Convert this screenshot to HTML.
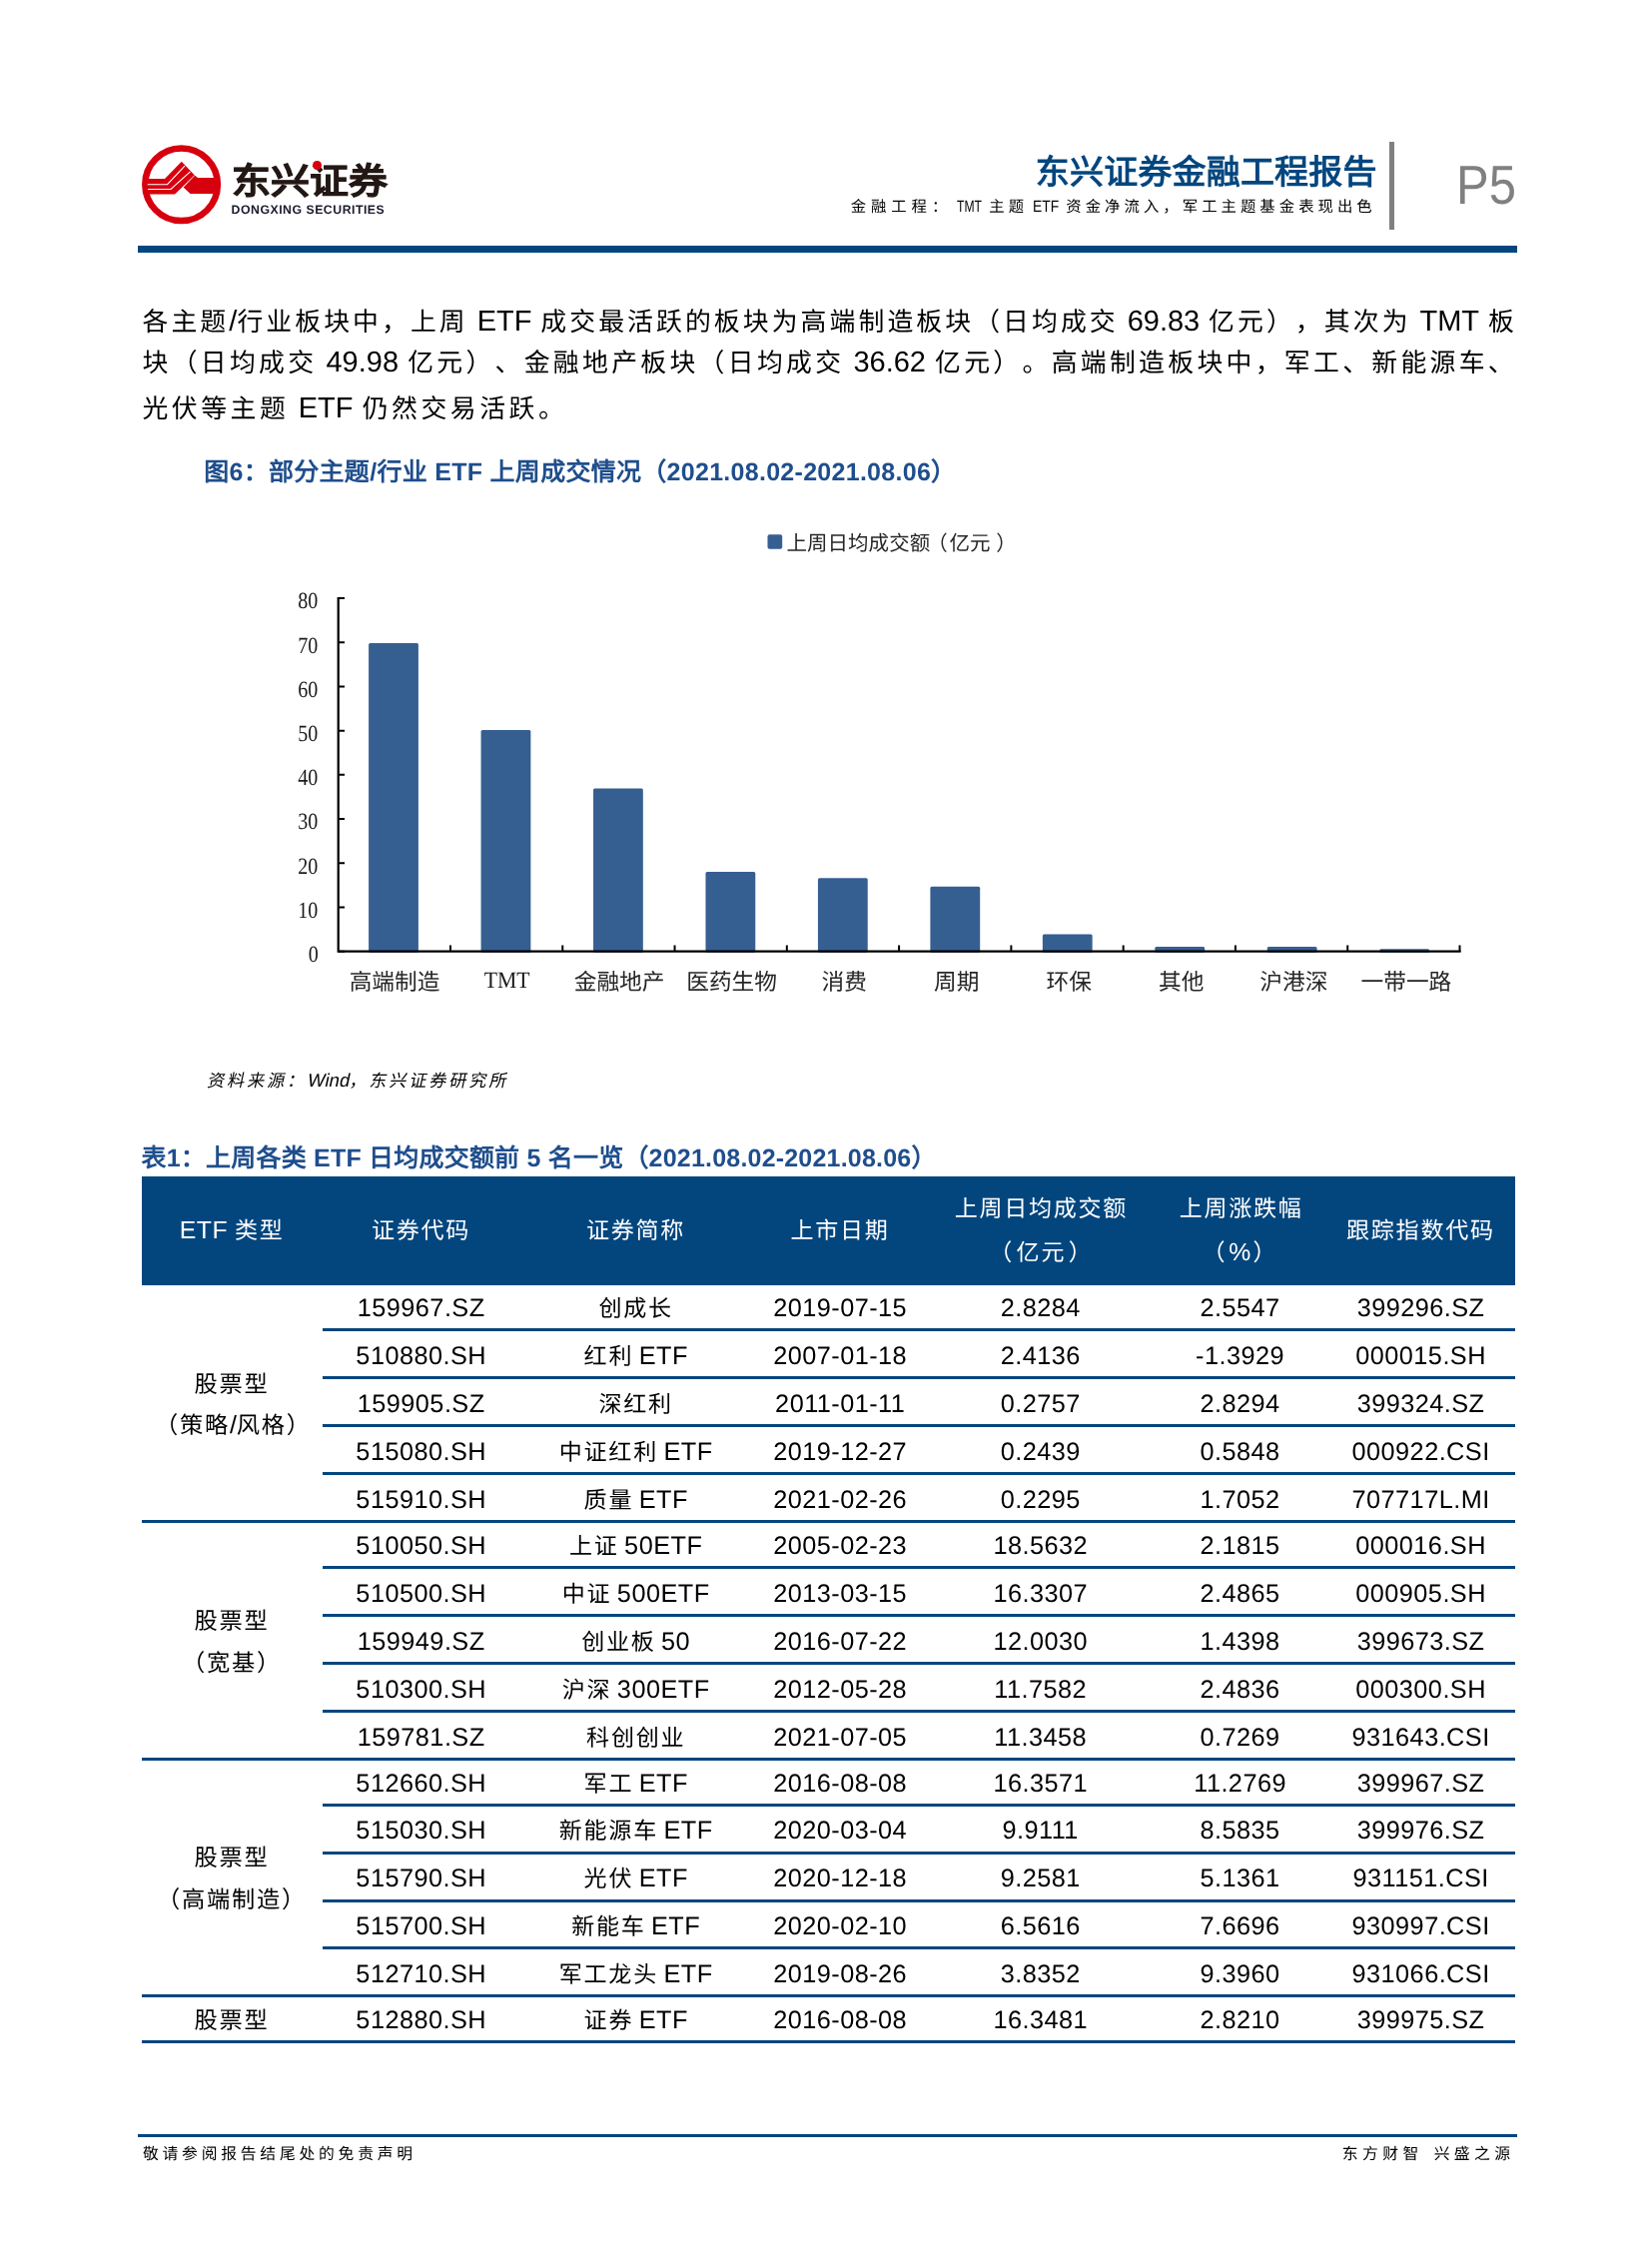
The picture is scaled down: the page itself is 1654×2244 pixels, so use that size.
<!DOCTYPE html>
<html lang="zh-CN">
<head>
<meta charset="utf-8">
<title>东兴证券金融工程报告 P5</title>
<style>
html,body{margin:0;padding:0;background:#fff;}
body{text-rendering:geometricPrecision;width:1654px;height:2244px;position:relative;overflow:hidden;font-family:"Liberation Sans",sans-serif;color:#000;}
.t{position:absolute;white-space:nowrap;margin:0;padding:0;font-family:"Liberation Sans",sans-serif;}
.r{position:absolute;}
.k{font-weight:400;}
.sf{font-family:"Liberation Serif",serif;}
.b{font-weight:bold;}
.i{font-style:italic;}
.a{font-weight:400;}
.nl{display:inline-block;letter-spacing:0;transform-origin:0 50%;}
.l{letter-spacing:0;font-size:29px;}
.c{font-size:24.7px;letter-spacing:0;}
.t{text-spacing-trim:space-all;}
.z0{font-size:15.35px;letter-spacing:4.95px;}
.z1{font-size:15.35px;letter-spacing:4.05px;}
.z2{font-size:25.85px;letter-spacing:3.05px;}
.z3{font-size:25.85px;letter-spacing:3.5px;}
.z4{font-size:17.21px;letter-spacing:2.79px;}
.z5{font-size:23.06px;letter-spacing:1.74px;}
.z6{font-size:23.25px;letter-spacing:1.75px;}
.z7{font-size:15.81px;letter-spacing:3.74px;}
.z8{font-size:15.81px;letter-spacing:4.39px;}
svg{position:absolute;left:0;top:0;}
</style>
</head>
<body>
<div id="page" style="position:absolute;left:0;top:0;width:1654px;height:2244px;will-change:transform;">

<svg width="1654" height="300" viewBox="0 0 1654 300">
<g>
<circle cx="181.6" cy="184.8" r="36.3" fill="none" stroke="#d7000f" stroke-width="6.5"/>
<clipPath id="lc"><circle cx="181.6" cy="184.8" r="34"/></clipPath>
<g clip-path="url(#lc)">
<polygon points="140,178.9 165,178.9 181.8,161.8 194.9,175.5 175,194.6 140,194.6" fill="#d7000f"/>
<polygon points="194.9,175.5 198,178 230,178 230,193.9 190.5,193.9 183.6,187.4" fill="#d7000f"/>
<polyline points="140,184.7 167.5,184.7 185,166.2" fill="none" stroke="#fff" stroke-width="1.1"/>
<polyline points="140,189.5 171,189.5 190.5,171.8" fill="none" stroke="#fff" stroke-width="1.1"/>
<line x1="183.4" y1="187.2" x2="194.9" y2="175.5" stroke="#fff" stroke-width="0.7"/>
</g>
</g>
</svg>

<div class="t b j" style="left:232.4px;width:145.1px;text-align:justify;text-align-last:justify;top:158.0px;font-size:36.2px;line-height:47px;height:47px;color:#231815;-webkit-text-stroke:0.7px #231815;transform:scaleX(1.075);transform-origin:0 50%;">东兴证券</div>
<div class="r" style="left:313.1px;top:161.1px;width:8.8px;height:8.8px;border-radius:50%;background:#d7000f;"></div>
<div class="t b" style="left:231.6px;top:202.0px;font-size:12.3px;line-height:16px;height:16px;color:#1a1a2e;letter-spacing:0.5px;">DONGXING SECURITIES</div>
<div class="t b j" style="left:1036.8px;width:341.8px;text-align:justify;text-align-last:justify;top:151.0px;font-size:34px;line-height:44px;height:44px;color:#03467e;letter-spacing:0.15px;">东兴证券金融工程报告</div>
<div class="t k j" style="left:851.7px;width:526.1px;text-align:justify;text-align-last:justify;top:197.0px;font-size:16.5px;line-height:21px;height:21px;letter-spacing:2.9px;"><span class="z0">金融工程</span><span class="z1">：</span><span class="nl" style="transform:scaleX(.737);margin-right:-8.9px;margin-left:5.5px">TMT</span> <span class="z1">主题</span> <span class="nl" style="transform:scaleX(.84);margin-right:-5px;margin-left:-3px">ETF</span> <span class="z1">资金净流入，军工主题基金表现出色</span></div>
<div class="r" style="left:1390.8px;top:142.0px;width:5.3px;height:87.5px;background:#808080;"></div>
<div class="t " style="left:1458.0px;top:149.0px;font-size:55px;line-height:72px;height:72px;color:#808080;"><span style="display:inline-block;transform:scaleX(0.89);transform-origin:0 50%">P5</span></div>
<div class="r" style="left:138.0px;top:246.0px;width:1381.0px;height:7.0px;background:#03467e;"></div>
<div class="t k" style="left:142.5px;letter-spacing:1.1px;top:302.0px;font-size:27.8px;line-height:40px;height:40px;width:1376.3px;text-align:justify;text-align-last:justify;"><span class="z2">各主题</span><span class="l">/</span><span class="z2">行业板块中，上周</span> <span class="l">ETF</span> <span class="z2">成交最活跃的板块为高端制造板块（日均成交</span> <span class="l">69.83</span> <span class="z2">亿元），其次为</span> <span class="l">TMT</span> <span class="z2">板</span></div>
<div class="t k" style="left:142.5px;letter-spacing:1.1px;top:343.0px;font-size:27.8px;line-height:40px;height:40px;width:1376.3px;text-align:justify;text-align-last:justify;"><span class="z2">块（日均成交</span> <span class="l">49.98</span> <span class="z2">亿元）、金融地产板块（日均成交</span> <span class="l">36.62</span> <span class="z2">亿元）。高端制造板块中，军工、新能源车、</span></div>
<div class="t k j" style="left:142.5px;width:425.8px;text-align:justify;text-align-last:justify;top:389.0px;font-size:27.8px;line-height:40px;height:40px;letter-spacing:1.55px;"><span class="z3">光伏等主题</span> <span class="l">ETF</span> <span class="z3">仍然交易活跃。</span></div>
<div class="t b j" style="left:204.2px;width:753.2px;text-align:justify;text-align-last:justify;top:457.0px;font-size:25px;line-height:32px;height:32px;color:#1f4e8c;letter-spacing:0.28px;">图6：部分主题/行业 ETF 上周成交情况（2021.08.02-2021.08.06）</div>
<svg width="1654" height="1100" viewBox="0 0 1654 1100">
<rect x="369.10" y="643.96" width="49.8" height="309.74" rx="1.5" ry="1.5" fill="#365f91"/>
<rect x="481.56" y="730.97" width="49.8" height="222.73" rx="1.5" ry="1.5" fill="#365f91"/>
<rect x="594.02" y="789.56" width="49.8" height="164.14" rx="1.5" ry="1.5" fill="#365f91"/>
<rect x="706.48" y="873.12" width="49.8" height="80.58" rx="1.5" ry="1.5" fill="#365f91"/>
<rect x="818.94" y="879.31" width="49.8" height="74.39" rx="1.5" ry="1.5" fill="#365f91"/>
<rect x="931.40" y="887.71" width="49.8" height="65.99" rx="1.5" ry="1.5" fill="#365f91"/>
<rect x="1043.86" y="935.46" width="49.8" height="18.24" rx="1.5" ry="1.5" fill="#365f91"/>
<rect x="1156.32" y="948.06" width="49.8" height="5.64" rx="1.5" ry="1.5" fill="#365f91"/>
<rect x="1268.78" y="948.06" width="49.8" height="5.64" rx="1.5" ry="1.5" fill="#365f91"/>
<rect x="1381.24" y="950.27" width="49.8" height="3.43" rx="1.5" ry="1.5" fill="#365f91"/>
<path d="M338.70 597.90 V953.80 M337.60 952.70 H1462.60" stroke="#000" stroke-width="2.2" fill="none"/>
<path d="M338.70 599.00 h6.3 M338.70 643.21 h6.3 M338.70 687.42 h6.3 M338.70 731.64 h6.3 M338.70 775.85 h6.3 M338.70 820.06 h6.3 M338.70 864.28 h6.3 M338.70 908.49 h6.3 M338.70 952.70 h6.3 M450.98 952.70 v-6.3 M563.26 952.70 v-6.3 M675.54 952.70 v-6.3 M787.82 952.70 v-6.3 M900.10 952.70 v-6.3 M1012.38 952.70 v-6.3 M1124.66 952.70 v-6.3 M1236.94 952.70 v-6.3 M1349.22 952.70 v-6.3 M1461.50 952.70 v-6.3" stroke="#000" stroke-width="2" fill="none"/>
<rect x="768.5" y="535.3" width="14.7" height="14.5" rx="2" ry="2" fill="#365f91"/>
</svg>
<div class="t sf" style="left:218.3px;width:100px;text-align:right;top:587.0px;font-size:23.3px;line-height:30px;height:30px;color:#1a1a1a;"><span style="display:inline-block;transform:scaleX(0.86);transform-origin:100% 50%">80</span></div>
<div class="t sf" style="left:218.3px;width:100px;text-align:right;top:632.0px;font-size:23.3px;line-height:30px;height:30px;color:#1a1a1a;"><span style="display:inline-block;transform:scaleX(0.86);transform-origin:100% 50%">70</span></div>
<div class="t sf" style="left:218.3px;width:100px;text-align:right;top:676.0px;font-size:23.3px;line-height:30px;height:30px;color:#1a1a1a;"><span style="display:inline-block;transform:scaleX(0.86);transform-origin:100% 50%">60</span></div>
<div class="t sf" style="left:218.3px;width:100px;text-align:right;top:720.0px;font-size:23.3px;line-height:30px;height:30px;color:#1a1a1a;"><span style="display:inline-block;transform:scaleX(0.86);transform-origin:100% 50%">50</span></div>
<div class="t sf" style="left:218.3px;width:100px;text-align:right;top:764.0px;font-size:23.3px;line-height:30px;height:30px;color:#1a1a1a;"><span style="display:inline-block;transform:scaleX(0.86);transform-origin:100% 50%">40</span></div>
<div class="t sf" style="left:218.3px;width:100px;text-align:right;top:808.0px;font-size:23.3px;line-height:30px;height:30px;color:#1a1a1a;"><span style="display:inline-block;transform:scaleX(0.86);transform-origin:100% 50%">30</span></div>
<div class="t sf" style="left:218.3px;width:100px;text-align:right;top:853.0px;font-size:23.3px;line-height:30px;height:30px;color:#1a1a1a;"><span style="display:inline-block;transform:scaleX(0.86);transform-origin:100% 50%">20</span></div>
<div class="t sf" style="left:218.3px;width:100px;text-align:right;top:897.0px;font-size:23.3px;line-height:30px;height:30px;color:#1a1a1a;"><span style="display:inline-block;transform:scaleX(0.86);transform-origin:100% 50%">10</span></div>
<div class="t sf" style="left:218.3px;width:100px;text-align:right;top:941.0px;font-size:23.3px;line-height:30px;height:30px;color:#1a1a1a;"><span style="display:inline-block;transform:scaleX(0.86);transform-origin:100% 50%">0</span></div>
<div class="t k" style="left:295.0px;width:200px;text-align:center;top:968.0px;font-size:22.7px;line-height:30px;height:30px;color:#262626;">高端制造</div>
<div class="t sf" style="left:407.7px;width:200px;text-align:center;top:967.0px;font-size:23.4px;line-height:30px;height:30px;color:#1a1a1a;"><span style="display:inline-block;transform:scaleX(0.93)">TMT</span></div>
<div class="t k" style="left:520.1px;width:200px;text-align:center;top:968.0px;font-size:22.7px;line-height:30px;height:30px;color:#262626;">金融地产</div>
<div class="t k" style="left:632.6px;width:200px;text-align:center;top:968.0px;font-size:22.7px;line-height:30px;height:30px;color:#262626;">医药生物</div>
<div class="t k" style="left:745.2px;width:200px;text-align:center;top:968.0px;font-size:22.7px;line-height:30px;height:30px;color:#262626;">消费</div>
<div class="t k" style="left:857.7px;width:200px;text-align:center;top:968.0px;font-size:22.7px;line-height:30px;height:30px;color:#262626;">周期</div>
<div class="t k" style="left:970.2px;width:200px;text-align:center;top:968.0px;font-size:22.7px;line-height:30px;height:30px;color:#262626;">环保</div>
<div class="t k" style="left:1082.8px;width:200px;text-align:center;top:968.0px;font-size:22.7px;line-height:30px;height:30px;color:#262626;">其他</div>
<div class="t k" style="left:1195.3px;width:200px;text-align:center;top:968.0px;font-size:22.7px;line-height:30px;height:30px;color:#262626;">沪港深</div>
<div class="t k" style="left:1307.9px;width:200px;text-align:center;top:968.0px;font-size:22.7px;line-height:30px;height:30px;color:#262626;">一带一路</div>
<div class="t k j" style="left:787.5px;width:230.3px;text-align:justify;text-align-last:justify;top:531.0px;font-size:20.5px;line-height:27px;height:27px;color:#262626;">上周日均成交额<span style="margin-left:-3.1px">（</span><span style="margin-left:1.9px">亿元</span><span style="margin-left:5.7px">）</span></div>
<div class="t k j" style="left:206.5px;width:302.2px;text-align:justify;text-align-last:justify;top:1070.0px;font-size:18.5px;line-height:24px;height:24px;letter-spacing:1.5px;transform:skewX(-12deg);transform-origin:0 75%;"><span class="z4">资料来源：</span><span class="a" style="letter-spacing:0">Wind</span><span class="z4">，东兴证券研究所</span></div>
<div class="t b j" style="left:141.5px;width:796.1px;text-align:justify;text-align-last:justify;top:1144.0px;font-size:25px;line-height:32px;height:32px;color:#1f4e8c;letter-spacing:0.2px;">表1：上周各类 ETF 日均成交额前 5 名一览（2021.08.02-2021.08.06）</div>
<div class="r" style="left:142.0px;top:1178.3px;width:1375.0px;height:108.4px;background:#03467e;"></div>
<div class="t k" style="left:82.2px;width:300px;text-align:center;top:1216.0px;font-size:24.8px;line-height:32px;height:32px;color:#fff;"><span style="letter-spacing:0.5px">ETF</span> <span class="z5">类型</span></div>
<div class="t k" style="left:271.5px;width:300px;text-align:center;top:1216.0px;font-size:24.8px;line-height:32px;height:32px;color:#fff;"><span class="z5">证券代码</span></div>
<div class="t k" style="left:486.5px;width:300px;text-align:center;top:1216.0px;font-size:24.8px;line-height:32px;height:32px;color:#fff;"><span class="z5">证券简称</span></div>
<div class="t k" style="left:691.0px;width:300px;text-align:center;top:1216.0px;font-size:24.8px;line-height:32px;height:32px;color:#fff;"><span class="z5">上市日期</span></div>
<div class="t k" style="left:892.4px;width:300px;text-align:center;top:1194.0px;font-size:24.8px;line-height:32px;height:32px;color:#fff;"><span class="z5">上周日均成交额</span></div>
<div class="t k" style="left:892.4px;width:300px;text-align:center;top:1238.0px;font-size:24.8px;line-height:32px;height:32px;color:#fff;"><span class="z5">（</span><span style="margin:0 2.5px"><span class="z5">亿元</span></span><span class="z5">）</span></div>
<div class="t k" style="left:1092.7px;width:300px;text-align:center;top:1194.0px;font-size:24.8px;line-height:32px;height:32px;color:#fff;"><span class="z5">上周涨跌幅</span></div>
<div class="t k" style="left:1091.4px;width:300px;text-align:center;top:1238.0px;font-size:24.8px;line-height:32px;height:32px;color:#fff;"><span class="z5">（</span><span style="margin:0 2px">%</span><span class="z5">）</span></div>
<div class="t k" style="left:1272.4px;width:300px;text-align:center;top:1216.0px;font-size:24.8px;line-height:32px;height:32px;color:#fff;"><span class="z5">跟踪指数代码</span></div>
<div class="r" style="left:323.0px;top:1329.9px;width:1194.0px;height:3.1px;background:#03467e;"></div>
<div class="r" style="left:323.0px;top:1378.0px;width:1194.0px;height:3.1px;background:#03467e;"></div>
<div class="r" style="left:323.0px;top:1426.0px;width:1194.0px;height:3.1px;background:#03467e;"></div>
<div class="r" style="left:323.0px;top:1474.0px;width:1194.0px;height:3.1px;background:#03467e;"></div>
<div class="r" style="left:142.0px;top:1522.0px;width:1375.0px;height:3.1px;background:#03467e;"></div>
<div class="r" style="left:323.0px;top:1567.9px;width:1194.0px;height:3.1px;background:#03467e;"></div>
<div class="r" style="left:323.0px;top:1616.0px;width:1194.0px;height:3.1px;background:#03467e;"></div>
<div class="r" style="left:323.0px;top:1663.9px;width:1194.0px;height:3.1px;background:#03467e;"></div>
<div class="r" style="left:323.0px;top:1711.9px;width:1194.0px;height:3.1px;background:#03467e;"></div>
<div class="r" style="left:142.0px;top:1759.9px;width:1375.0px;height:3.1px;background:#03467e;"></div>
<div class="r" style="left:323.0px;top:1806.0px;width:1194.0px;height:3.1px;background:#03467e;"></div>
<div class="r" style="left:323.0px;top:1853.9px;width:1194.0px;height:3.1px;background:#03467e;"></div>
<div class="r" style="left:323.0px;top:1901.8px;width:1194.0px;height:3.1px;background:#03467e;"></div>
<div class="r" style="left:323.0px;top:1949.2px;width:1194.0px;height:3.1px;background:#03467e;"></div>
<div class="r" style="left:142.0px;top:1996.9px;width:1375.0px;height:3.1px;background:#03467e;"></div>
<div class="r" style="left:142.0px;top:2042.9px;width:1375.0px;height:3.1px;background:#03467e;"></div>
<div class="t k" style="left:291.7px;width:260px;text-align:center;top:1294.0px;font-size:25.3px;line-height:33px;height:33px;letter-spacing:0.45px;">159967.SZ</div>
<div class="t k" style="left:506.7px;width:260px;text-align:center;top:1294.0px;font-size:25.3px;line-height:33px;height:33px;letter-spacing:0.45px;word-spacing:-2px;"><span class="z5">创成长</span></div>
<div class="t k" style="left:711.2px;width:260px;text-align:center;top:1294.0px;font-size:25.3px;line-height:33px;height:33px;letter-spacing:0.45px;">2019-07-15</div>
<div class="t k" style="left:911.7px;width:260px;text-align:center;top:1294.0px;font-size:25.3px;line-height:33px;height:33px;letter-spacing:0.45px;">2.8284</div>
<div class="t k" style="left:1111.6px;width:260px;text-align:center;top:1294.0px;font-size:25.3px;line-height:33px;height:33px;letter-spacing:0.45px;">2.5547</div>
<div class="t k" style="left:1292.6px;width:260px;text-align:center;top:1294.0px;font-size:25.3px;line-height:33px;height:33px;letter-spacing:0.45px;">399296.SZ</div>
<div class="t k" style="left:291.7px;width:260px;text-align:center;top:1342.0px;font-size:25.3px;line-height:33px;height:33px;letter-spacing:0.45px;">510880.SH</div>
<div class="t k" style="left:506.7px;width:260px;text-align:center;top:1342.0px;font-size:25.3px;line-height:33px;height:33px;letter-spacing:0.45px;word-spacing:-2px;"><span class="z5">红利</span> ETF</div>
<div class="t k" style="left:711.2px;width:260px;text-align:center;top:1342.0px;font-size:25.3px;line-height:33px;height:33px;letter-spacing:0.45px;">2007-01-18</div>
<div class="t k" style="left:911.7px;width:260px;text-align:center;top:1342.0px;font-size:25.3px;line-height:33px;height:33px;letter-spacing:0.45px;">2.4136</div>
<div class="t k" style="left:1111.6px;width:260px;text-align:center;top:1342.0px;font-size:25.3px;line-height:33px;height:33px;letter-spacing:0.45px;">-1.3929</div>
<div class="t k" style="left:1292.6px;width:260px;text-align:center;top:1342.0px;font-size:25.3px;line-height:33px;height:33px;letter-spacing:0.45px;">000015.SH</div>
<div class="t k" style="left:291.7px;width:260px;text-align:center;top:1390.0px;font-size:25.3px;line-height:33px;height:33px;letter-spacing:0.45px;">159905.SZ</div>
<div class="t k" style="left:506.7px;width:260px;text-align:center;top:1390.0px;font-size:25.3px;line-height:33px;height:33px;letter-spacing:0.45px;word-spacing:-2px;"><span class="z5">深红利</span></div>
<div class="t k" style="left:711.2px;width:260px;text-align:center;top:1390.0px;font-size:25.3px;line-height:33px;height:33px;letter-spacing:0.45px;">2011-01-11</div>
<div class="t k" style="left:911.7px;width:260px;text-align:center;top:1390.0px;font-size:25.3px;line-height:33px;height:33px;letter-spacing:0.45px;">0.2757</div>
<div class="t k" style="left:1111.6px;width:260px;text-align:center;top:1390.0px;font-size:25.3px;line-height:33px;height:33px;letter-spacing:0.45px;">2.8294</div>
<div class="t k" style="left:1292.6px;width:260px;text-align:center;top:1390.0px;font-size:25.3px;line-height:33px;height:33px;letter-spacing:0.45px;">399324.SZ</div>
<div class="t k" style="left:291.7px;width:260px;text-align:center;top:1438.0px;font-size:25.3px;line-height:33px;height:33px;letter-spacing:0.45px;">515080.SH</div>
<div class="t k" style="left:506.7px;width:260px;text-align:center;top:1438.0px;font-size:25.3px;line-height:33px;height:33px;letter-spacing:0.45px;word-spacing:-2px;"><span class="z5">中证红利</span> ETF</div>
<div class="t k" style="left:711.2px;width:260px;text-align:center;top:1438.0px;font-size:25.3px;line-height:33px;height:33px;letter-spacing:0.45px;">2019-12-27</div>
<div class="t k" style="left:911.7px;width:260px;text-align:center;top:1438.0px;font-size:25.3px;line-height:33px;height:33px;letter-spacing:0.45px;">0.2439</div>
<div class="t k" style="left:1111.6px;width:260px;text-align:center;top:1438.0px;font-size:25.3px;line-height:33px;height:33px;letter-spacing:0.45px;">0.5848</div>
<div class="t k" style="left:1292.6px;width:260px;text-align:center;top:1438.0px;font-size:25.3px;line-height:33px;height:33px;letter-spacing:0.45px;">000922.CSI</div>
<div class="t k" style="left:291.7px;width:260px;text-align:center;top:1486.0px;font-size:25.3px;line-height:33px;height:33px;letter-spacing:0.45px;">515910.SH</div>
<div class="t k" style="left:506.7px;width:260px;text-align:center;top:1486.0px;font-size:25.3px;line-height:33px;height:33px;letter-spacing:0.45px;word-spacing:-2px;"><span class="z5">质量</span> ETF</div>
<div class="t k" style="left:711.2px;width:260px;text-align:center;top:1486.0px;font-size:25.3px;line-height:33px;height:33px;letter-spacing:0.45px;">2021-02-26</div>
<div class="t k" style="left:911.7px;width:260px;text-align:center;top:1486.0px;font-size:25.3px;line-height:33px;height:33px;letter-spacing:0.45px;">0.2295</div>
<div class="t k" style="left:1111.6px;width:260px;text-align:center;top:1486.0px;font-size:25.3px;line-height:33px;height:33px;letter-spacing:0.45px;">1.7052</div>
<div class="t k" style="left:1292.6px;width:260px;text-align:center;top:1486.0px;font-size:25.3px;line-height:33px;height:33px;letter-spacing:0.45px;">707717L.MI</div>
<div class="t k" style="left:291.7px;width:260px;text-align:center;top:1532.0px;font-size:25.3px;line-height:33px;height:33px;letter-spacing:0.45px;">510050.SH</div>
<div class="t k" style="left:506.7px;width:260px;text-align:center;top:1532.0px;font-size:25.3px;line-height:33px;height:33px;letter-spacing:0.45px;word-spacing:-2px;"><span class="z5">上证</span> 50ETF</div>
<div class="t k" style="left:711.2px;width:260px;text-align:center;top:1532.0px;font-size:25.3px;line-height:33px;height:33px;letter-spacing:0.45px;">2005-02-23</div>
<div class="t k" style="left:911.7px;width:260px;text-align:center;top:1532.0px;font-size:25.3px;line-height:33px;height:33px;letter-spacing:0.45px;">18.5632</div>
<div class="t k" style="left:1111.6px;width:260px;text-align:center;top:1532.0px;font-size:25.3px;line-height:33px;height:33px;letter-spacing:0.45px;">2.1815</div>
<div class="t k" style="left:1292.6px;width:260px;text-align:center;top:1532.0px;font-size:25.3px;line-height:33px;height:33px;letter-spacing:0.45px;">000016.SH</div>
<div class="t k" style="left:291.7px;width:260px;text-align:center;top:1580.0px;font-size:25.3px;line-height:33px;height:33px;letter-spacing:0.45px;">510500.SH</div>
<div class="t k" style="left:506.7px;width:260px;text-align:center;top:1580.0px;font-size:25.3px;line-height:33px;height:33px;letter-spacing:0.45px;word-spacing:-2px;"><span class="z5">中证</span> 500ETF</div>
<div class="t k" style="left:711.2px;width:260px;text-align:center;top:1580.0px;font-size:25.3px;line-height:33px;height:33px;letter-spacing:0.45px;">2013-03-15</div>
<div class="t k" style="left:911.7px;width:260px;text-align:center;top:1580.0px;font-size:25.3px;line-height:33px;height:33px;letter-spacing:0.45px;">16.3307</div>
<div class="t k" style="left:1111.6px;width:260px;text-align:center;top:1580.0px;font-size:25.3px;line-height:33px;height:33px;letter-spacing:0.45px;">2.4865</div>
<div class="t k" style="left:1292.6px;width:260px;text-align:center;top:1580.0px;font-size:25.3px;line-height:33px;height:33px;letter-spacing:0.45px;">000905.SH</div>
<div class="t k" style="left:291.7px;width:260px;text-align:center;top:1628.0px;font-size:25.3px;line-height:33px;height:33px;letter-spacing:0.45px;">159949.SZ</div>
<div class="t k" style="left:506.7px;width:260px;text-align:center;top:1628.0px;font-size:25.3px;line-height:33px;height:33px;letter-spacing:0.45px;word-spacing:-2px;"><span class="z5">创业板</span> 50</div>
<div class="t k" style="left:711.2px;width:260px;text-align:center;top:1628.0px;font-size:25.3px;line-height:33px;height:33px;letter-spacing:0.45px;">2016-07-22</div>
<div class="t k" style="left:911.7px;width:260px;text-align:center;top:1628.0px;font-size:25.3px;line-height:33px;height:33px;letter-spacing:0.45px;">12.0030</div>
<div class="t k" style="left:1111.6px;width:260px;text-align:center;top:1628.0px;font-size:25.3px;line-height:33px;height:33px;letter-spacing:0.45px;">1.4398</div>
<div class="t k" style="left:1292.6px;width:260px;text-align:center;top:1628.0px;font-size:25.3px;line-height:33px;height:33px;letter-spacing:0.45px;">399673.SZ</div>
<div class="t k" style="left:291.7px;width:260px;text-align:center;top:1676.0px;font-size:25.3px;line-height:33px;height:33px;letter-spacing:0.45px;">510300.SH</div>
<div class="t k" style="left:506.7px;width:260px;text-align:center;top:1676.0px;font-size:25.3px;line-height:33px;height:33px;letter-spacing:0.45px;word-spacing:-2px;"><span class="z5">沪深</span> 300ETF</div>
<div class="t k" style="left:711.2px;width:260px;text-align:center;top:1676.0px;font-size:25.3px;line-height:33px;height:33px;letter-spacing:0.45px;">2012-05-28</div>
<div class="t k" style="left:911.7px;width:260px;text-align:center;top:1676.0px;font-size:25.3px;line-height:33px;height:33px;letter-spacing:0.45px;">11.7582</div>
<div class="t k" style="left:1111.6px;width:260px;text-align:center;top:1676.0px;font-size:25.3px;line-height:33px;height:33px;letter-spacing:0.45px;">2.4836</div>
<div class="t k" style="left:1292.6px;width:260px;text-align:center;top:1676.0px;font-size:25.3px;line-height:33px;height:33px;letter-spacing:0.45px;">000300.SH</div>
<div class="t k" style="left:291.7px;width:260px;text-align:center;top:1724.0px;font-size:25.3px;line-height:33px;height:33px;letter-spacing:0.45px;">159781.SZ</div>
<div class="t k" style="left:506.7px;width:260px;text-align:center;top:1724.0px;font-size:25.3px;line-height:33px;height:33px;letter-spacing:0.45px;word-spacing:-2px;"><span class="z5">科创创业</span></div>
<div class="t k" style="left:711.2px;width:260px;text-align:center;top:1724.0px;font-size:25.3px;line-height:33px;height:33px;letter-spacing:0.45px;">2021-07-05</div>
<div class="t k" style="left:911.7px;width:260px;text-align:center;top:1724.0px;font-size:25.3px;line-height:33px;height:33px;letter-spacing:0.45px;">11.3458</div>
<div class="t k" style="left:1111.6px;width:260px;text-align:center;top:1724.0px;font-size:25.3px;line-height:33px;height:33px;letter-spacing:0.45px;">0.7269</div>
<div class="t k" style="left:1292.6px;width:260px;text-align:center;top:1724.0px;font-size:25.3px;line-height:33px;height:33px;letter-spacing:0.45px;">931643.CSI</div>
<div class="t k" style="left:291.7px;width:260px;text-align:center;top:1770.0px;font-size:25.3px;line-height:33px;height:33px;letter-spacing:0.45px;">512660.SH</div>
<div class="t k" style="left:506.7px;width:260px;text-align:center;top:1770.0px;font-size:25.3px;line-height:33px;height:33px;letter-spacing:0.45px;word-spacing:-2px;"><span class="z5">军工</span> ETF</div>
<div class="t k" style="left:711.2px;width:260px;text-align:center;top:1770.0px;font-size:25.3px;line-height:33px;height:33px;letter-spacing:0.45px;">2016-08-08</div>
<div class="t k" style="left:911.7px;width:260px;text-align:center;top:1770.0px;font-size:25.3px;line-height:33px;height:33px;letter-spacing:0.45px;">16.3571</div>
<div class="t k" style="left:1111.6px;width:260px;text-align:center;top:1770.0px;font-size:25.3px;line-height:33px;height:33px;letter-spacing:0.45px;">11.2769</div>
<div class="t k" style="left:1292.6px;width:260px;text-align:center;top:1770.0px;font-size:25.3px;line-height:33px;height:33px;letter-spacing:0.45px;">399967.SZ</div>
<div class="t k" style="left:291.7px;width:260px;text-align:center;top:1817.0px;font-size:25.3px;line-height:33px;height:33px;letter-spacing:0.45px;">515030.SH</div>
<div class="t k" style="left:506.7px;width:260px;text-align:center;top:1817.0px;font-size:25.3px;line-height:33px;height:33px;letter-spacing:0.45px;word-spacing:-2px;"><span class="z5">新能源车</span> ETF</div>
<div class="t k" style="left:711.2px;width:260px;text-align:center;top:1817.0px;font-size:25.3px;line-height:33px;height:33px;letter-spacing:0.45px;">2020-03-04</div>
<div class="t k" style="left:911.7px;width:260px;text-align:center;top:1817.0px;font-size:25.3px;line-height:33px;height:33px;letter-spacing:0.45px;">9.9111</div>
<div class="t k" style="left:1111.6px;width:260px;text-align:center;top:1817.0px;font-size:25.3px;line-height:33px;height:33px;letter-spacing:0.45px;">8.5835</div>
<div class="t k" style="left:1292.6px;width:260px;text-align:center;top:1817.0px;font-size:25.3px;line-height:33px;height:33px;letter-spacing:0.45px;">399976.SZ</div>
<div class="t k" style="left:291.7px;width:260px;text-align:center;top:1865.0px;font-size:25.3px;line-height:33px;height:33px;letter-spacing:0.45px;">515790.SH</div>
<div class="t k" style="left:506.7px;width:260px;text-align:center;top:1865.0px;font-size:25.3px;line-height:33px;height:33px;letter-spacing:0.45px;word-spacing:-2px;"><span class="z5">光伏</span> ETF</div>
<div class="t k" style="left:711.2px;width:260px;text-align:center;top:1865.0px;font-size:25.3px;line-height:33px;height:33px;letter-spacing:0.45px;">2020-12-18</div>
<div class="t k" style="left:911.7px;width:260px;text-align:center;top:1865.0px;font-size:25.3px;line-height:33px;height:33px;letter-spacing:0.45px;">9.2581</div>
<div class="t k" style="left:1111.6px;width:260px;text-align:center;top:1865.0px;font-size:25.3px;line-height:33px;height:33px;letter-spacing:0.45px;">5.1361</div>
<div class="t k" style="left:1292.6px;width:260px;text-align:center;top:1865.0px;font-size:25.3px;line-height:33px;height:33px;letter-spacing:0.45px;">931151.CSI</div>
<div class="t k" style="left:291.7px;width:260px;text-align:center;top:1913.0px;font-size:25.3px;line-height:33px;height:33px;letter-spacing:0.45px;">515700.SH</div>
<div class="t k" style="left:506.7px;width:260px;text-align:center;top:1913.0px;font-size:25.3px;line-height:33px;height:33px;letter-spacing:0.45px;word-spacing:-2px;"><span class="z5">新能车</span> ETF</div>
<div class="t k" style="left:711.2px;width:260px;text-align:center;top:1913.0px;font-size:25.3px;line-height:33px;height:33px;letter-spacing:0.45px;">2020-02-10</div>
<div class="t k" style="left:911.7px;width:260px;text-align:center;top:1913.0px;font-size:25.3px;line-height:33px;height:33px;letter-spacing:0.45px;">6.5616</div>
<div class="t k" style="left:1111.6px;width:260px;text-align:center;top:1913.0px;font-size:25.3px;line-height:33px;height:33px;letter-spacing:0.45px;">7.6696</div>
<div class="t k" style="left:1292.6px;width:260px;text-align:center;top:1913.0px;font-size:25.3px;line-height:33px;height:33px;letter-spacing:0.45px;">930997.CSI</div>
<div class="t k" style="left:291.7px;width:260px;text-align:center;top:1961.0px;font-size:25.3px;line-height:33px;height:33px;letter-spacing:0.45px;">512710.SH</div>
<div class="t k" style="left:506.7px;width:260px;text-align:center;top:1961.0px;font-size:25.3px;line-height:33px;height:33px;letter-spacing:0.45px;word-spacing:-2px;"><span class="z5">军工龙头</span> ETF</div>
<div class="t k" style="left:711.2px;width:260px;text-align:center;top:1961.0px;font-size:25.3px;line-height:33px;height:33px;letter-spacing:0.45px;">2019-08-26</div>
<div class="t k" style="left:911.7px;width:260px;text-align:center;top:1961.0px;font-size:25.3px;line-height:33px;height:33px;letter-spacing:0.45px;">3.8352</div>
<div class="t k" style="left:1111.6px;width:260px;text-align:center;top:1961.0px;font-size:25.3px;line-height:33px;height:33px;letter-spacing:0.45px;">9.3960</div>
<div class="t k" style="left:1292.6px;width:260px;text-align:center;top:1961.0px;font-size:25.3px;line-height:33px;height:33px;letter-spacing:0.45px;">931066.CSI</div>
<div class="t k" style="left:291.7px;width:260px;text-align:center;top:2007.0px;font-size:25.3px;line-height:33px;height:33px;letter-spacing:0.45px;">512880.SH</div>
<div class="t k" style="left:506.7px;width:260px;text-align:center;top:2007.0px;font-size:25.3px;line-height:33px;height:33px;letter-spacing:0.45px;word-spacing:-2px;"><span class="z5">证券</span> ETF</div>
<div class="t k" style="left:711.2px;width:260px;text-align:center;top:2007.0px;font-size:25.3px;line-height:33px;height:33px;letter-spacing:0.45px;">2016-08-08</div>
<div class="t k" style="left:911.7px;width:260px;text-align:center;top:2007.0px;font-size:25.3px;line-height:33px;height:33px;letter-spacing:0.45px;">16.3481</div>
<div class="t k" style="left:1111.6px;width:260px;text-align:center;top:2007.0px;font-size:25.3px;line-height:33px;height:33px;letter-spacing:0.45px;">2.8210</div>
<div class="t k" style="left:1292.6px;width:260px;text-align:center;top:2007.0px;font-size:25.3px;line-height:33px;height:33px;letter-spacing:0.45px;">399975.SZ</div>
<div class="t k" style="left:101.9px;width:260px;text-align:center;top:1370.0px;font-size:25px;line-height:32px;height:32px;"><span class="z6">股票型</span></div>
<div class="t k" style="left:103.4px;width:260px;text-align:center;top:1411.0px;font-size:25px;line-height:32px;height:32px;"><span class="z6">（策略</span>/<span class="z6">风格）</span></div>
<div class="t k" style="left:101.9px;width:260px;text-align:center;top:1607.0px;font-size:25px;line-height:32px;height:32px;"><span class="z6">股票型</span></div>
<div class="t k" style="left:101.9px;width:260px;text-align:center;top:1649.0px;font-size:25px;line-height:32px;height:32px;"><span class="z6">（宽基）</span></div>
<div class="t k" style="left:101.9px;width:260px;text-align:center;top:1844.0px;font-size:25px;line-height:32px;height:32px;"><span class="z6">股票型</span></div>
<div class="t k" style="left:101.9px;width:260px;text-align:center;top:1886.0px;font-size:25px;line-height:32px;height:32px;"><span class="z6">（高端制造）</span></div>
<div class="t k" style="left:101.9px;width:260px;text-align:center;top:2007.0px;font-size:25px;line-height:32px;height:32px;"><span class="z6">股票型</span></div>
<div class="r" style="left:138.0px;top:2137.2px;width:1381.0px;height:3.0px;background:#03467e;"></div>
<div class="t k j" style="left:143.0px;width:273.8px;text-align:justify;text-align-last:justify;top:2146.0px;font-size:17px;line-height:22px;height:22px;letter-spacing:2.55px;"><span class="z7">敬请参阅报告结尾处的免责声明</span></div>
<div class="t k j" style="left:1343.8px;width:172.7px;text-align:justify;text-align-last:justify;top:2146.0px;font-size:17px;line-height:22px;height:22px;letter-spacing:3.2px;word-spacing:3px;"><span class="z8">东方财智</span> <span class="z8">兴盛之源</span></div>
</div>
</body>
</html>
